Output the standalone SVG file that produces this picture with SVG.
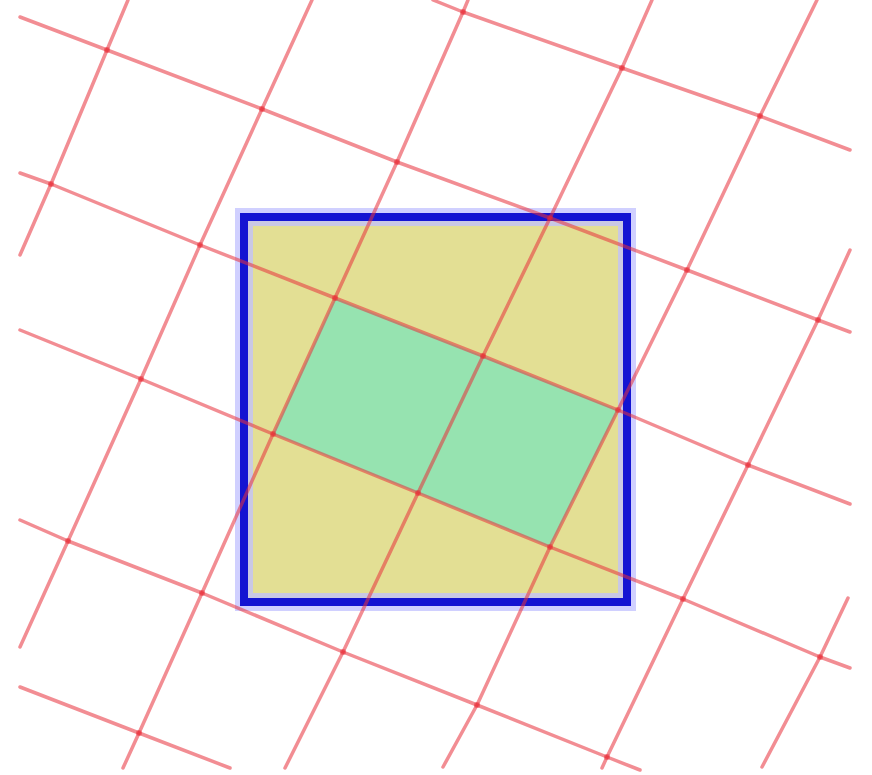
<svg xmlns="http://www.w3.org/2000/svg" width="872" height="775" viewBox="0 0 872 775">
<style>
.grid polyline{fill:none;stroke:#e8303a;stroke-width:3.5;stroke-opacity:0.55;stroke-linejoin:round;stroke-linecap:round}
.dots circle{fill:#e8202a;fill-opacity:0.45}
</style>
<rect width="872" height="775" fill="#ffffff"/>
<g id="square">
<rect x="244" y="217" width="383" height="385" fill="#e3df94"/>
<polygon id="cells" points="335,298 483,356 618,410 550,547 418,493 273,434" fill="#96e3b0"/>
<rect x="244" y="217" width="383" height="385" fill="none" stroke="#c0c0ff" stroke-width="18" stroke-opacity="0.75"/>
<rect x="244" y="217" width="383" height="385" fill="none" stroke="#1414d2" stroke-width="8"/>
</g>
<g id="grid" class="grid">
<polyline points="433,0 463,12 622,68 760,116 850,150"/>
<polyline points="20,17 107,50 262,109 397,162 550,218 687,270 818,320 850,332"/>
<polyline points="20,173 51,184 200,245 335,298 483,356 618,410 748,465 850,504"/>
<polyline points="20,330 141,379 273,434 418,493 550,547 683,599 820,657 850,668"/>
<polyline points="20,520 68,541 202,593 343,652 477,705 607,757 640,770"/>
<polyline points="20,687 139,733 230,768"/>
<polyline points="128,0 107,50 51,184 20,255"/>
<polyline points="312,0 262,109 200,245 141,379 68,541 20,647"/>
<polyline points="468,0 463,12 397,162 335,298 273,434 202,593 139,733 123,768"/>
<polyline points="652,0 622,68 550,218 483,356 418,493 343,652 285,768"/>
<polyline points="817,0 760,116 687,270 618,410 550,547 477,705 443,767"/>
<polyline points="850,250 818,320 748,465 683,599 607,757 602,768"/>
<polyline points="848,598 820,657 762,767"/>
</g>
<g id="intersections" class="dots">
<circle cx="463" cy="12" r="3"/><circle cx="622" cy="68" r="3"/><circle cx="760" cy="116" r="3"/>
<circle cx="107" cy="50" r="3"/><circle cx="262" cy="109" r="3"/><circle cx="397" cy="162" r="3"/><circle cx="550" cy="218" r="3"/><circle cx="687" cy="270" r="3"/><circle cx="818" cy="320" r="3"/>
<circle cx="51" cy="184" r="3"/><circle cx="200" cy="245" r="3"/><circle cx="335" cy="298" r="3"/><circle cx="483" cy="356" r="3"/><circle cx="618" cy="410" r="3"/><circle cx="748" cy="465" r="3"/>
<circle cx="141" cy="379" r="3"/><circle cx="273" cy="434" r="3"/><circle cx="418" cy="493" r="3"/><circle cx="550" cy="547" r="3"/><circle cx="683" cy="599" r="3"/><circle cx="820" cy="657" r="3"/>
<circle cx="68" cy="541" r="3"/><circle cx="202" cy="593" r="3"/><circle cx="343" cy="652" r="3"/><circle cx="477" cy="705" r="3"/><circle cx="607" cy="757" r="3"/>
<circle cx="139" cy="733" r="3"/>
</g>
</svg>
